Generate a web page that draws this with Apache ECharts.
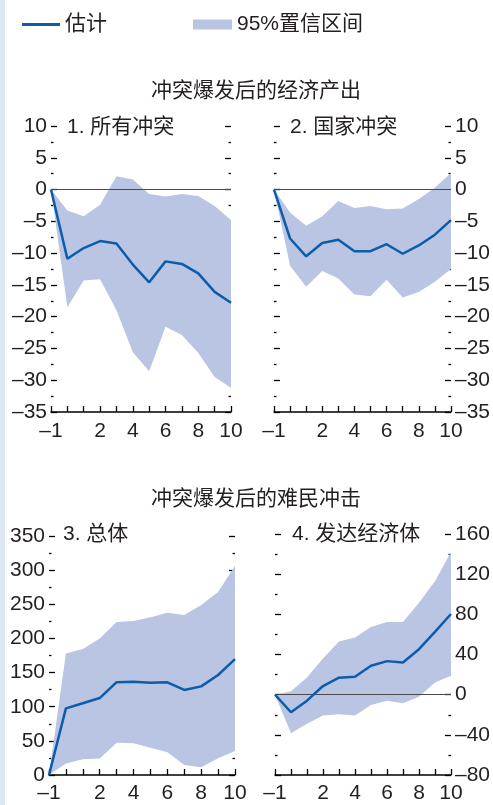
<!DOCTYPE html>
<html>
<head>
<meta charset="utf-8">
<script src="https://cdn.jsdelivr.net/npm/echarts@6/dist/echarts.min.js"></script>
<style>
  html, body { margin: 0; padding: 0; background: #fff; }
  #chart { width: 493px; height: 805px; }
</style>
</head>
<body>
<div id="chart"></div>
<script>
// years relative to conflict onset
const years = [-1, 0, 1, 2, 3, 4, 5, 6, 7, 8, 9, 10];

// 1. all conflicts (output, %)
const allEst  = [0, -10.9, -9.2, -8.1, -8.5, -11.8, -14.6, -11.3, -11.7, -13.2, -16.1, -17.8];
const allHigh = [0, -3.3, -4.2, -2.4, 2.1, 1.6, -0.7, -1.1, -0.7, -1.0, -2.6, -4.8];
const allLow  = [0, -18.5, -14.3, -14.1, -19.0, -25.6, -28.6, -21.6, -22.9, -25.7, -29.5, -31.2];

// 2. state conflicts
const stateEst  = [0, -7.7, -10.5, -8.4, -7.9, -9.7, -9.7, -8.6, -10.1, -8.8, -7.1, -4.8];
const stateHigh = [0, -3.6, -5.7, -4.2, -1.8, -2.9, -2.6, -3.1, -3.0, -1.5, 0.3, 2.6];
const stateLow  = [0, -12.0, -15.3, -12.8, -14.0, -16.5, -16.8, -14.2, -17.0, -16.1, -14.5, -12.5];

// 3. refugees, total
const refEst  = [0, 97.6, 105, 112.7, 136, 136.7, 135, 135.7, 124.5, 129.8, 146.4, 169.8];
const refHigh = [0, 178, 184.5, 200, 224, 225.5, 231, 237.7, 234.3, 249, 268, 306.5];
const refLow  = [0, 17, 23, 24, 47.3, 46.4, 40, 33.2, 14.6, 11.2, 24.4, 35];

// 4. refugees, advanced economies
const advEst  = [0, -17.5, -6, 8.6, 16.9, 17.9, 28.8, 33.4, 32, 45.3, 62.5, 80.3];
const advHigh = [0, 3.3, 17.2, 36, 52.9, 56.9, 67.4, 72.4, 72.4, 91.6, 113, 142];
const advLow  = [0, -38.3, -29, -20.8, -19.5, -20.8, -10.2, -6, -8.6, -2, 12.2, 18.8];

const LINE = '#0b5dab';
const BAND = '#b9c5e3';
const TXT = '#231f20';
const NUM = 'Liberation Sans Narrow, Arial Narrow, Liberation Sans, sans-serif';
const CJK = 'Liberation Sans, Noto Sans CJK SC, sans-serif';

const chart = echarts.init(document.getElementById('chart'), null, { renderer: 'canvas' });

const grids = [
  { left: 51, top: 126, width: 180, height: 286 },
  { left: 274, top: 126, width: 184, height: 286 },
  { left: 49, top: 536, width: 186, height: 239 },
  { left: 275, top: 534, width: 184, height: 241 }
];

const scales = [
  { min: -35, max: 10, interval: 5, labelSide: 'left' },
  { min: -35, max: 10, interval: 5, labelSide: 'right' },
  { min: 0, max: 350, interval: 50, labelSide: 'left' },
  { min: -80, max: 160, interval: 40, labelSide: 'right' }
];

const fmtNum = v => String(v).replace('-', '\u2013');

const xAxes = grids.map((g, i) => ({
  type: 'value', gridIndex: i, min: -1, max: 10, interval: 1,
  axisLine: { show: true, onZero: false, lineStyle: { color: '#000', width: 1.5 } },
  axisTick: { show: true, inside: true, length: 6, lineStyle: { color: '#000', width: 1.3 } },
  axisLabel: {
    margin: i < 2 ? 9 : 8, fontSize: 21, fontFamily: NUM, color: TXT,
    formatter: v => (v === -1 || (v > 0 && v % 2 === 0)) ? fmtNum(v) : ''
  },
  splitLine: { show: false }
}));

const yAxes = [];
scales.forEach((s, i) => {
  ['left', 'right'].forEach(side => {
    yAxes.push({
      type: 'value', gridIndex: i, position: side,
      min: s.min, max: s.max, interval: s.interval,
      axisLine: { show: false, onZero: false },
      axisTick: { show: true, inside: true, length: 6, lineStyle: { color: '#000', width: 1.3 } },
      minorTick: { show: true, splitNumber: 2, length: 2.5, lineStyle: { color: '#000', width: 1.3 } },
      axisLabel: {
        show: side === s.labelSide, margin: 4, fontSize: 21, fontFamily: NUM, color: TXT,
        formatter: fmtNum
      },
      splitLine: { show: false }
    });
  });
});

function bandSeries(i, low, high) {
  return {
    type: 'custom', name: '95%置信区间', xAxisIndex: i, yAxisIndex: i * 2,
    data: [[0, 0]], silent: true, z: 1,
    itemStyle: { color: BAND },
    renderItem: (params, api) => {
      const pts = years.map((x, k) => api.coord([x, high[k]]));
      for (let k = years.length - 1; k >= 0; k--) pts.push(api.coord([years[k], low[k]]));
      return { type: 'polygon', shape: { points: pts }, style: { fill: BAND } };
    }
  };
}

function lineSeries(i, est, zero) {
  return {
    type: 'line', name: '估计', xAxisIndex: i, yAxisIndex: i * 2,
    data: years.map((x, k) => [x, est[k]]),
    symbol: 'none', silent: true, z: 3,
    itemStyle: { color: LINE },
    lineStyle: { color: LINE, width: 2.5 },
    markLine: zero ? {
      silent: true, symbol: 'none', animation: false, z: 2,
      label: { show: false },
      lineStyle: { color: '#4a4a4a', width: 1, type: 'solid' },
      data: [{ yAxis: 0 }]
    } : undefined
  };
}

const panels = [
  [allLow, allHigh, allEst, true],
  [stateLow, stateHigh, stateEst, true],
  [refLow, refHigh, refEst, false],
  [advLow, advHigh, advEst, true]
];

const series = [];
panels.forEach((p, i) => {
  series.push(bandSeries(i, p[0], p[1]));
  series.push(lineSeries(i, p[2], p[3]));
});

const titleStyle = { fontSize: 21, fontWeight: 'normal', fontFamily: CJK, color: TXT };

const option = {
  backgroundColor: '#ffffff',
  animation: false,
  graphic: [
    { type: 'rect', left: 0, top: 0, shape: { width: 5, height: 805 }, style: { fill: '#dfe7f3' }, silent: true }
  ],
  title: [
    { text: '冲突爆发后的经济产出', left: 151, top: 81, textStyle: titleStyle, padding: 0 },
    { text: '冲突爆发后的难民冲击', left: 151, top: 489, textStyle: titleStyle, padding: 0 },
    { text: '1. 所有冲突', left: 67, top: 117, textStyle: titleStyle, padding: 0 },
    { text: '2. 国家冲突', left: 290, top: 117, textStyle: titleStyle, padding: 0 },
    { text: '3. 总体', left: 63, top: 524, textStyle: titleStyle, padding: 0 },
    { text: '4. 发达经济体', left: 292, top: 524, textStyle: titleStyle, padding: 0 }
  ],
  legend: [
    {
      left: 22, top: 14, padding: 0, selectedMode: false,
      itemWidth: 38, itemHeight: 3,
      textStyle: { fontSize: 21, fontFamily: CJK, color: TXT },
      data: [{ name: '估计', icon: 'rect', itemStyle: { color: LINE } }]
    },
    {
      left: 193, top: 14, padding: 0, selectedMode: false,
      itemWidth: 39, itemHeight: 10,
      textStyle: { fontSize: 21, fontFamily: CJK, color: TXT },
      data: [{ name: '95%置信区间', icon: 'rect', itemStyle: { color: BAND } }]
    }
  ],
  grid: grids,
  xAxis: xAxes,
  yAxis: yAxes,
  series: series
};

chart.setOption(option);
</script>
</body>
</html>
